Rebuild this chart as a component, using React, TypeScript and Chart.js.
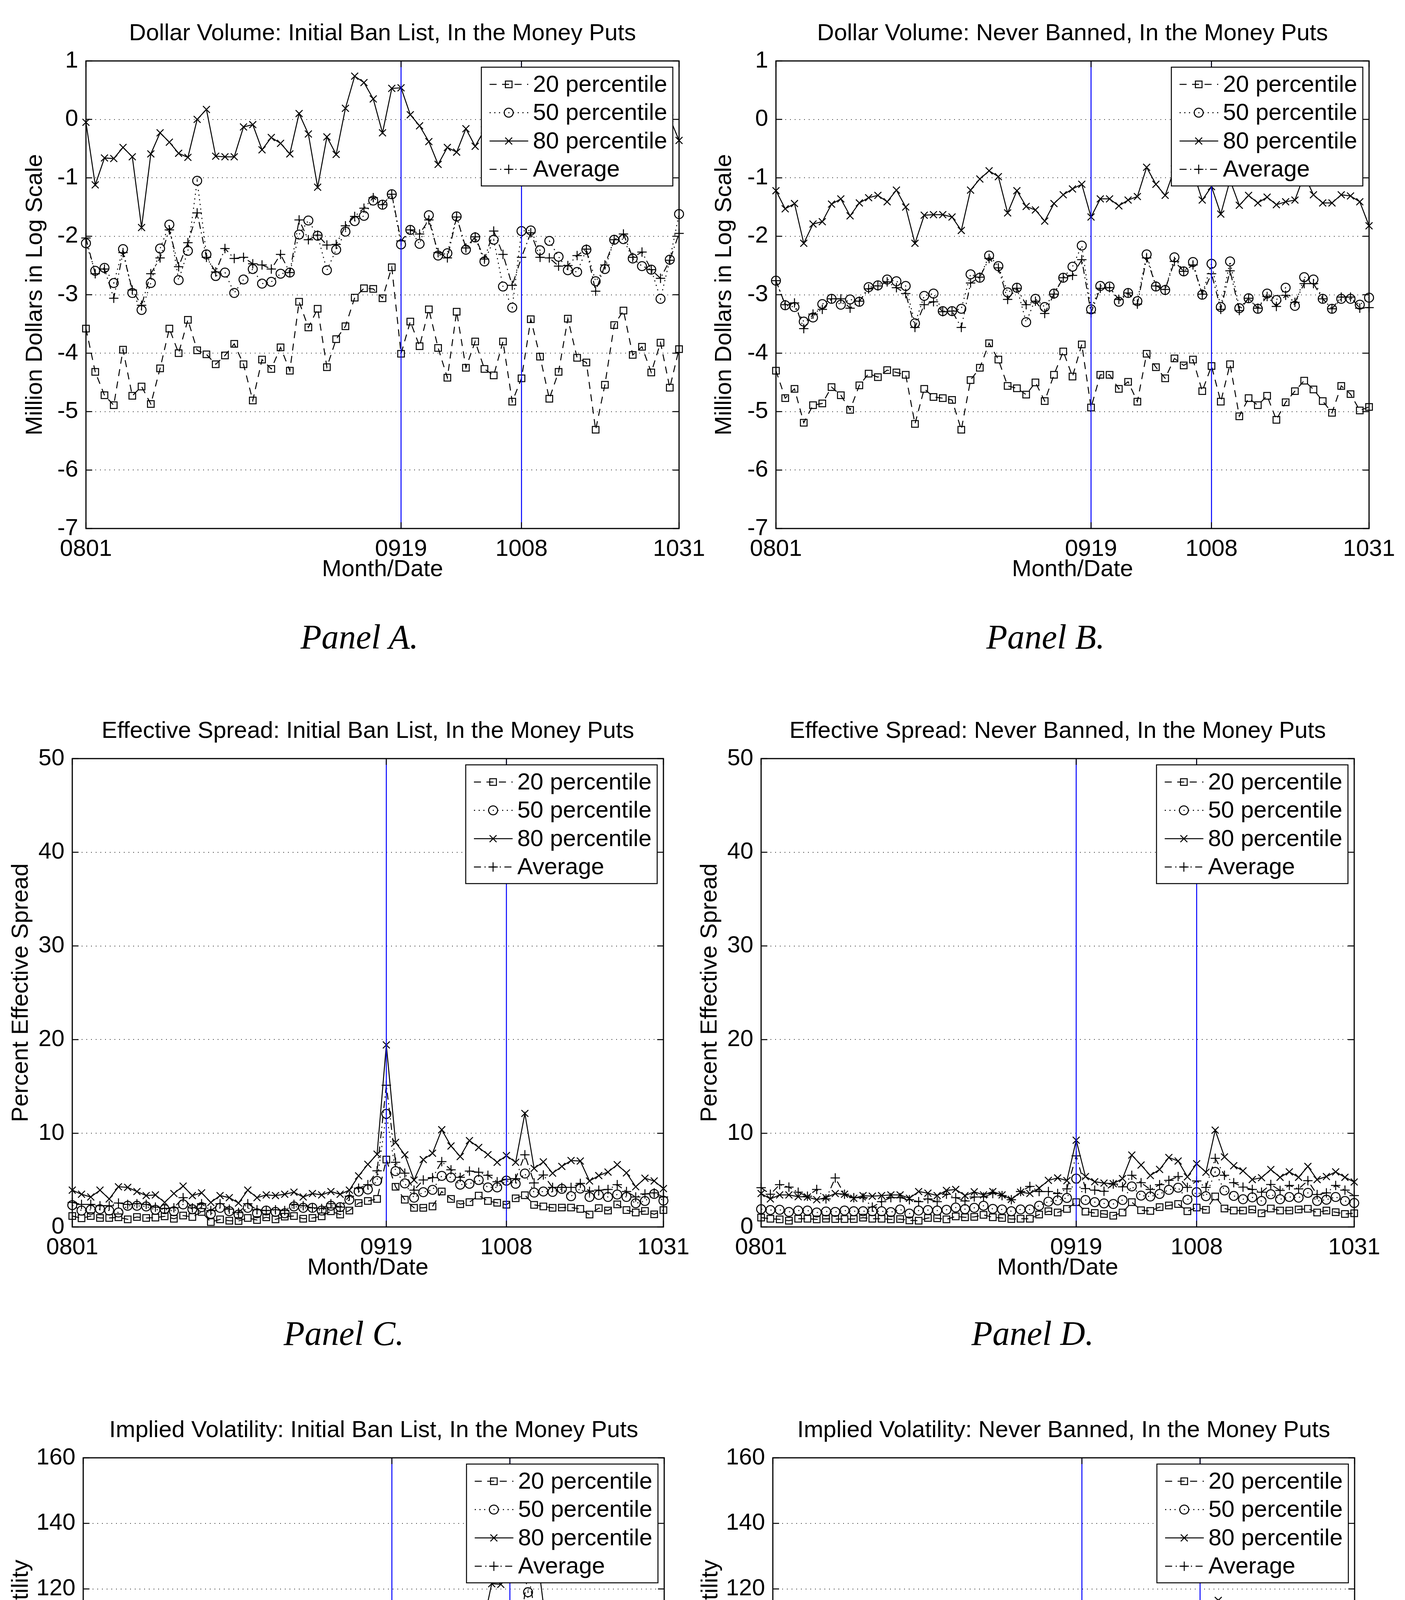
import React, { useEffect, useRef } from 'react';
import { Chart, registerables } from 'chart.js';

Chart.register(...registerables);

// ---------------- data ----------------
const dates = [
  '0801','0804','0805','0806','0807','0808','0811','0812','0813','0814','0815','0818','0819','0820','0821','0822','0825','0826','0827','0828','0829',
  '0902','0903','0904','0905','0908','0909','0910','0911','0912','0915','0916','0917','0918','0919','0922','0923','0924','0925','0926','0929','0930',
  '1001','1002','1003','1006','1007','1008','1009','1010','1013','1014','1015','1016','1017','1020','1021','1022','1023','1024','1027','1028','1029','1030','1031',
];
const tickDates = ['0801', '0919', '1008', '1031'];
const eventDates = ['0919', '1008'];
const seriesNames = ['20 percentile', '50 percentile', '80 percentile', 'Average'];

// Panel A: Dollar volume, initial ban list
const dvBanP20 = [-3.58,-4.32,-4.72,-4.89,-3.94,-4.73,-4.57,-4.87,-4.26,-3.58,-4.00,-3.43,-3.95,-4.02,-4.19,-4.04,-3.84,-4.19,-4.81,-4.11,-4.27,-3.90,-4.30,-3.12,-3.56,-3.24,-4.24,-3.76,-3.54,-3.05,-2.89,-2.90,-3.06,-2.53,-4.01,-3.46,-3.88,-3.25,-3.91,-4.42,-3.29,-4.25,-3.80,-4.27,-4.38,-3.80,-4.83,-4.43,-3.42,-4.06,-4.78,-4.32,-3.41,-4.08,-4.16,-5.31,-4.54,-3.52,-3.27,-4.03,-3.89,-4.33,-3.82,-4.59,-3.93];
const dvBanP50 = [-2.12,-2.59,-2.54,-2.80,-2.22,-2.97,-3.26,-2.80,-2.21,-1.80,-2.75,-2.25,-1.05,-2.31,-2.68,-2.62,-2.97,-2.74,-2.56,-2.81,-2.78,-2.64,-2.62,-1.97,-1.73,-1.99,-2.58,-2.23,-1.92,-1.74,-1.65,-1.39,-1.46,-1.28,-2.14,-1.89,-2.13,-1.64,-2.33,-2.29,-1.66,-2.23,-2.02,-2.43,-2.06,-2.86,-3.22,-1.91,-1.90,-2.24,-2.08,-2.35,-2.58,-2.61,-2.23,-2.77,-2.56,-2.06,-2.05,-2.38,-2.51,-2.57,-3.07,-2.40,-1.62];
const dvBanP80 = [-0.05,-1.12,-0.66,-0.67,-0.48,-0.64,-1.85,-0.59,-0.23,-0.39,-0.58,-0.65,0.00,0.17,-0.63,-0.64,-0.64,-0.13,-0.09,-0.52,-0.31,-0.41,-0.59,0.10,-0.25,-1.16,-0.30,-0.60,0.19,0.74,0.63,0.35,-0.23,0.53,0.54,0.08,-0.11,-0.38,-0.77,-0.48,-0.56,-0.16,-0.46,-0.18,-0.45,-0.30,-0.62,-0.20,-0.48,-0.35,-0.72,-0.40,-0.55,-0.28,-0.60,-0.85,-0.45,-0.22,-0.30,-0.58,-0.42,-0.66,-0.38,0.02,-0.36];
const dvBanAvg = [-2.03,-2.64,-2.56,-3.06,-2.28,-2.92,-3.18,-2.64,-2.37,-1.89,-2.52,-2.11,-1.60,-2.36,-2.61,-2.21,-2.38,-2.36,-2.47,-2.49,-2.56,-2.31,-2.62,-1.72,-2.06,-1.98,-2.15,-2.14,-1.82,-1.66,-1.52,-1.34,-1.46,-1.28,-2.08,-1.89,-1.96,-1.72,-2.28,-2.37,-1.67,-2.20,-2.01,-2.39,-1.91,-2.31,-2.84,-2.36,-1.94,-2.36,-2.37,-2.51,-2.50,-2.33,-2.22,-2.94,-2.49,-2.06,-1.96,-2.36,-2.27,-2.57,-2.72,-2.41,-1.95];

// Panel B: Dollar volume, never banned
const dvNevP20 = [-4.30,-4.77,-4.61,-5.19,-4.89,-4.86,-4.58,-4.72,-4.97,-4.55,-4.35,-4.41,-4.29,-4.33,-4.37,-5.21,-4.61,-4.75,-4.77,-4.80,-5.31,-4.46,-4.25,-3.83,-4.11,-4.56,-4.60,-4.71,-4.50,-4.82,-4.37,-3.97,-4.40,-3.85,-4.93,-4.37,-4.37,-4.61,-4.49,-4.83,-4.01,-4.24,-4.43,-4.09,-4.21,-4.11,-4.65,-4.22,-4.83,-4.19,-5.08,-4.77,-4.89,-4.73,-5.14,-4.84,-4.65,-4.47,-4.62,-4.82,-5.02,-4.56,-4.70,-4.98,-4.92];
const dvNevP50 = [-2.76,-3.18,-3.21,-3.46,-3.39,-3.16,-3.07,-3.17,-3.08,-3.12,-2.87,-2.84,-2.74,-2.77,-2.85,-3.49,-3.02,-2.98,-3.28,-3.28,-3.24,-2.65,-2.71,-2.33,-2.51,-2.96,-2.88,-3.47,-3.07,-3.21,-2.98,-2.71,-2.52,-2.16,-3.25,-2.85,-2.86,-3.12,-2.97,-3.11,-2.31,-2.86,-2.92,-2.36,-2.60,-2.44,-3.00,-2.47,-3.21,-2.43,-3.23,-3.06,-3.24,-2.98,-3.09,-2.88,-3.19,-2.70,-2.74,-3.07,-3.24,-3.07,-3.07,-3.17,-3.05];
const dvNevP80 = [-1.22,-1.53,-1.44,-2.12,-1.79,-1.75,-1.45,-1.36,-1.65,-1.43,-1.34,-1.30,-1.41,-1.21,-1.50,-2.12,-1.64,-1.63,-1.63,-1.67,-1.90,-1.21,-1.02,-0.88,-0.98,-1.60,-1.22,-1.49,-1.55,-1.74,-1.44,-1.29,-1.19,-1.11,-1.67,-1.36,-1.36,-1.48,-1.38,-1.32,-0.82,-1.11,-1.30,-0.85,-0.98,-0.89,-1.38,-1.15,-1.62,-1.04,-1.47,-1.30,-1.43,-1.33,-1.46,-1.41,-1.38,-0.95,-1.29,-1.43,-1.43,-1.29,-1.31,-1.41,-1.82];
const dvNevAvg = [-2.76,-3.17,-3.14,-3.58,-3.33,-3.25,-3.07,-3.07,-3.23,-3.11,-2.90,-2.85,-2.78,-2.88,-2.98,-3.56,-3.17,-3.12,-3.29,-3.28,-3.56,-2.80,-2.70,-2.38,-2.54,-3.08,-2.89,-3.17,-3.11,-3.32,-2.99,-2.71,-2.67,-2.40,-3.31,-2.89,-2.88,-3.08,-2.97,-3.16,-2.37,-2.85,-2.91,-2.43,-2.60,-2.49,-2.99,-2.64,-3.25,-2.59,-3.27,-3.06,-3.23,-3.03,-3.20,-3.01,-3.13,-2.81,-2.81,-3.07,-3.24,-3.04,-3.04,-3.23,-3.22];

// Panel C: Effective spread, initial ban list
const esBanP20 = [1.17,0.93,1.17,0.96,0.96,1.03,0.81,1.06,0.96,1.00,1.14,0.88,1.22,1.06,1.61,0.52,0.81,0.67,0.64,0.96,0.74,1.03,0.81,1.10,1.17,0.88,0.96,1.14,1.68,1.32,1.75,2.55,2.77,2.99,7.19,4.29,2.91,2.04,2.04,2.19,3.78,2.99,2.43,2.65,3.35,2.77,2.58,2.38,3.06,3.39,2.36,2.19,2.04,2.07,2.07,1.93,1.32,2.01,1.75,2.41,1.80,1.54,1.71,1.35,1.80];
const esBanP50 = [2.33,1.75,1.83,1.90,1.75,1.54,2.26,2.26,2.19,1.83,1.90,1.68,2.41,1.90,2.12,1.39,2.04,1.68,1.32,2.04,1.46,1.75,1.61,1.46,2.19,2.04,2.04,1.75,2.26,2.12,2.91,3.78,4.00,4.91,12.07,5.96,4.65,3.13,3.71,3.96,5.45,5.28,4.51,4.61,5.01,4.22,4.22,4.94,4.61,5.70,3.67,3.78,3.74,4.07,3.28,4.10,3.20,3.42,3.20,3.46,3.20,2.52,2.77,3.52,2.80];
const esBanP80 = [3.93,3.49,3.20,3.93,2.99,4.29,4.22,3.78,3.35,3.42,2.62,3.57,4.36,3.35,3.64,2.62,3.35,3.13,2.55,3.93,3.13,3.42,3.35,3.49,3.71,3.20,3.57,3.42,3.78,3.49,3.93,5.45,6.68,7.77,19.43,9.03,7.70,5.01,7.19,7.87,10.38,8.64,7.52,9.22,8.49,7.72,6.90,7.62,6.90,12.12,6.25,6.94,5.74,6.46,7.09,7.04,4.91,5.48,5.86,6.65,5.77,4.29,5.20,4.91,4.10];
const esBanAvg = [2.62,2.41,2.41,2.26,2.26,2.55,2.41,2.48,2.41,2.12,1.97,2.04,3.13,2.04,2.48,1.75,2.48,1.90,1.54,2.48,1.83,1.75,1.83,1.75,2.41,2.26,2.04,1.97,2.48,2.12,3.28,4.14,4.51,5.99,15.13,6.90,5.74,3.93,5.01,5.26,6.97,6.10,5.30,5.96,5.84,5.52,4.83,5.09,5.16,7.70,4.70,5.55,4.22,4.22,4.22,4.65,3.81,3.93,4.00,4.51,3.78,3.20,3.52,3.64,3.20];

// Panel D: Effective spread, never banned
const esNevP20 = [1.00,0.88,0.81,0.67,0.88,0.88,0.81,0.88,0.84,0.84,0.84,0.99,0.88,0.88,0.81,0.84,0.70,0.67,0.96,0.93,0.81,1.13,1.03,1.07,1.29,1.03,0.96,0.84,0.88,0.88,1.32,1.68,1.54,1.93,2.65,1.64,1.49,1.39,1.20,1.54,2.65,1.78,1.71,2.12,2.29,2.45,1.68,2.07,1.83,3.25,1.97,1.75,1.75,1.87,1.46,1.97,1.75,1.75,1.87,1.94,1.54,1.75,1.57,1.39,1.46];
const esNevP50 = [1.90,1.80,1.83,1.61,1.75,1.75,1.54,1.65,1.61,1.75,1.68,1.68,1.68,1.68,1.58,1.87,1.43,1.75,1.80,1.75,1.83,2.07,1.90,2.04,2.26,1.93,1.87,1.68,1.87,1.87,2.26,2.70,2.84,3.10,5.16,2.88,2.65,2.51,2.45,2.88,4.33,3.35,3.25,3.52,3.96,4.19,2.91,3.71,3.28,5.88,3.90,3.32,2.96,3.16,2.77,3.49,2.96,3.20,3.13,3.64,2.77,2.91,3.20,2.77,2.55];
const esNevP80 = [3.57,2.99,3.42,3.42,3.23,3.20,2.91,3.13,3.57,3.49,3.06,3.35,3.28,3.35,3.42,3.42,3.06,3.78,3.61,3.35,3.90,4.00,3.35,3.75,3.42,3.78,3.42,2.94,3.71,3.57,4.14,4.97,5.23,4.94,9.26,5.38,4.83,4.68,4.62,5.16,7.67,6.61,5.49,6.14,7.41,7.04,5.35,6.75,5.84,10.33,7.48,6.54,5.99,5.06,5.26,6.13,5.30,5.88,5.30,6.46,5.06,5.38,5.88,5.30,4.80];
const esNevAvg = [4.19,3.49,4.51,4.25,3.71,3.28,4.00,2.99,5.23,3.49,3.13,3.13,2.12,2.70,3.13,3.13,2.91,2.70,2.99,2.70,3.49,3.13,2.77,3.20,3.20,3.57,3.35,2.91,3.78,4.33,3.78,3.78,3.57,4.07,7.59,4.10,3.93,3.81,4.58,4.29,5.52,4.72,4.00,4.51,4.97,5.38,4.22,4.91,4.22,7.33,5.52,4.72,4.25,4.00,3.71,4.54,3.90,4.43,4.07,4.94,3.46,3.64,4.43,3.93,3.35];

// Panel E: Implied volatility, initial ban list
const ivBanP20 = [41.2,41.0,39.1,38.5,38.5,40.0,38.9,39.6,43.0,41.8,37.3,37.3,39.6,40.0,44.1,43.4,41.4,38.9,41.9,39.3,40.6,38.3,38.3,40.6,40.9,37.8,42.5,44.7,44.1,43.6,45.3,48.8,51.0,50.8,43.4,51.8,51.1,51.3,50.3,47.9,51.7,55.2,52.4,54.8,57.7,71.3,63.5,76.8,81.1,96.5,84.4,68.8,69.7,78.6,69.5,61.6,58.9,67.7,70.6,73.0,72.4,69.0,66.5,68.3,65.9];
const ivBanP50 = [52.2,54.9,48.4,44.8,46.1,49.2,44.6,48.8,51.0,50.0,48.1,45.7,49.2,50.5,51.0,49.9,50.1,47.9,50.0,47.4,52.4,47.0,47.7,46.8,51.3,49.9,51.0,54.2,56.2,56.2,58.9,61.7,66.1,64.1,64.9,64.0,65.3,61.1,61.7,62.5,70.0,72.8,66.0,68.7,70.6,84.0,82.9,90.7,92.1,119.0,96.8,79.7,80.7,88.0,80.0,75.5,71.6,75.2,80.2,90.0,87.4,84.7,82.6,77.0,76.1];
const ivBanP80 = [72.5,75.7,61.1,60.0,64.1,66.4,63.8,66.9,68.8,66.1,66.1,62.2,68.1,66.7,67.2,66.3,67.7,67.9,65.3,65.3,69.4,62.9,63.2,66.7,69.0,63.2,64.0,70.3,78.2,80.0,87.1,90.2,93.2,92.9,88.5,85.8,88.2,81.2,79.3,92.3,88.3,88.4,91.4,95.2,108.7,121.6,121.4,124.5,128.0,127.0,130.5,108.6,114.7,114.5,105.6,106.4,93.4,97.2,103.3,114.0,104.5,103.5,96.3,97.0,96.3];
const ivBanAvg = [56.0,59.1,52.8,50.3,52.3,54.0,50.4,54.2,55.5,53.9,52.3,50.8,54.7,53.9,56.6,55.2,55.8,54.6,54.1,52.8,55.7,51.8,51.7,52.6,54.7,51.7,55.8,59.6,64.9,67.0,69.5,72.5,77.8,77.0,69.7,73.1,74.3,68.9,70.5,75.7,77.5,79.7,79.7,80.6,82.5,93.9,92.9,96.5,106.4,125.0,109.2,90.9,92.3,101.2,91.8,84.9,80.2,81.7,86.0,92.0,90.5,89.5,84.5,84.0,82.2];

// Panel F: Implied volatility, never banned
const ivNevP20 = [31.8,32.3,31.6,31.5,31.1,30.4,31.6,32.1,31.3,30.0,29.5,29.8,30.3,30.5,29.7,30.6,30.9,30.8,30.5,29.7,29.8,30.3,31.5,30.6,32.2,31.8,33.1,32.2,32.2,32.2,33.4,34.5,35.6,35.1,33.4,35.2,35.2,35.5,35.5,35.6,38.6,37.6,39.3,39.6,40.1,47.5,46.9,51.1,52.1,60.7,55.9,51.2,53.9,58.6,56.0,52.4,49.7,53.5,52.8,54.9,56.9,55.9,52.8,53.1,53.1];
const ivNevP50 = [43.2,45.1,44.5,43.6,43.4,42.1,43.2,44.0,43.2,41.8,41.4,41.8,41.9,41.4,42.5,41.9,41.6,42.5,41.2,40.3,40.0,41.4,42.1,42.9,43.6,43.6,45.3,44.8,45.8,44.1,46.6,48.7,50.6,49.2,47.7,49.0,49.5,50.3,48.4,49.0,53.9,53.5,53.9,59.1,58.3,68.5,65.9,71.6,73.0,83.3,76.2,68.4,73.9,81.3,77.3,71.9,66.4,71.2,68.9,72.3,71.9,74.6,70.1,71.3,69.5];
const ivNevP80 = [56.5,60.2,60.0,60.1,60.9,56.5,57.3,58.1,58.1,56.5,57.3,55.2,56.9,55.7,56.5,56.9,54.2,56.9,54.0,54.0,54.0,55.7,56.2,56.2,58.7,59.4,62.7,62.0,64.3,61.4,66.1,69.6,69.4,68.9,66.4,63.0,65.8,67.9,66.5,66.9,77.0,77.4,75.5,86.4,82.5,95.7,93.6,102.8,102.2,116.5,106.9,100.6,107.1,114.7,110.0,98.6,93.6,103.3,99.4,102.8,107.5,103.5,100.6,96.1,92.6];
const ivNevAvg = [45.9,47.7,47.0,46.9,46.9,45.6,46.3,46.9,46.3,45.3,45.0,44.3,45.1,44.5,45.0,44.8,44.7,45.2,44.6,43.5,42.9,44.3,44.7,45.8,47.0,47.1,49.2,49.0,49.0,48.1,51.0,53.2,54.7,52.8,50.5,51.2,52.6,53.7,51.7,52.6,58.6,58.4,58.1,63.2,63.6,74.2,71.9,78.2,77.8,89.8,81.8,74.9,80.8,87.4,83.2,76.2,71.2,77.0,75.7,78.8,80.0,80.6,76.5,75.7,74.4];

// ---------------- panel definitions ----------------
type PanelSpec = {
  title: string; yLabel: string; caption: string;
  series: number[][]; yMin: number; yMax: number; yStep: number;
};

const panels: PanelSpec[] = [
  { title: 'Dollar Volume: Initial Ban List, In the Money Puts', yLabel: 'Million Dollars in Log Scale', caption: 'Panel A.',
    series: [dvBanP20, dvBanP50, dvBanP80, dvBanAvg], yMin: -7, yMax: 1, yStep: 1 },
  { title: 'Dollar Volume: Never Banned, In the Money Puts', yLabel: 'Million Dollars in Log Scale', caption: 'Panel B.',
    series: [dvNevP20, dvNevP50, dvNevP80, dvNevAvg], yMin: -7, yMax: 1, yStep: 1 },
  { title: 'Effective Spread: Initial Ban List, In the Money Puts', yLabel: 'Percent Effective Spread', caption: 'Panel C.',
    series: [esBanP20, esBanP50, esBanP80, esBanAvg], yMin: 0, yMax: 50, yStep: 10 },
  { title: 'Effective Spread: Never Banned, In the Money Puts', yLabel: 'Percent Effective Spread', caption: 'Panel D.',
    series: [esNevP20, esNevP50, esNevP80, esNevAvg], yMin: 0, yMax: 50, yStep: 10 },
  { title: 'Implied Volatility: Initial Ban List, In the Money Puts', yLabel: 'Percent Implied Volatility', caption: 'Panel E.',
    series: [ivBanP20, ivBanP50, ivBanP80, ivBanAvg], yMin: 20, yMax: 160, yStep: 20 },
  { title: 'Implied Volatility: Never Banned, In the Money Puts', yLabel: 'Percent Implied Volatility', caption: 'Panel F.',
    series: [ivNevP20, ivNevP50, ivNevP80, ivNevAvg], yMin: 20, yMax: 160, yStep: 20 },
];

// plot rectangles (page px), canvas origin, y-axis box width, caption centre
const layouts = [
  { L: 220, T: 156, R: 1738, B: 1353, cx: 0, cy: 0, wy: 166, capX: 920, capY: 1632 },
  { L: 1986, T: 156, R: 3504, B: 1353, cx: 1766, cy: 0, wy: 168, capX: 2676, capY: 1632 },
  { L: 185, T: 1942, R: 1698, B: 3141, cx: 0, cy: 1742, wy: 167, capX: 880, capY: 3415 },
  { L: 1948, T: 1942, R: 3466, B: 3141, cx: 1766, cy: 1742, wy: 167, capX: 2643, capY: 3415 },
  { L: 213, T: 3732, R: 1700, B: 4907, cx: 0, cy: 3532, wy: 195, capX: 880, capY: 5171 },
  { L: 1978, T: 3732, R: 3467, B: 4907, cx: 1766, cy: 3532, wy: 195, capX: 2640, capY: 5171 },
];

const FONT = '"Liberation Sans", Arial, Helvetica, sans-serif';
const FS = 60;
const CW = 1830;
const CH = 1560;
const HX = 141;

const STYLES = [
  { dash: [18, 14], point: 'rect', radius: 12 },
  { dash: [3, 9], point: 'circle', radius: 11.5 },
  { dash: [] as number[], point: 'crossRot', radius: 12.5 },
  { dash: [18, 9, 3, 9], point: 'cross', radius: 12 },
];

function drawMarker(ctx: CanvasRenderingContext2D, style: string, x: number, y: number, r: number) {
  ctx.beginPath();
  if (style === 'circle') {
    ctx.arc(x, y, r, 0, Math.PI * 2);
  } else if (style === 'rect') {
    const s = r * Math.SQRT1_2;
    ctx.rect(x - s, y - s, 2 * s, 2 * s);
  } else if (style === 'cross') {
    ctx.moveTo(x - r, y); ctx.lineTo(x + r, y);
    ctx.moveTo(x, y - r); ctx.lineTo(x, y + r);
  } else {
    const s = r * Math.SQRT1_2;
    ctx.moveTo(x - s, y - s); ctx.lineTo(x + s, y + s);
    ctx.moveTo(x - s, y + s); ctx.lineTo(x + s, y - s);
  }
  ctx.stroke();
}

const decorPlugin = {
  id: 'decor',
  beforeDatasetsDraw(chart: any) {
    const { ctx, chartArea: a, scales } = chart;
    const y = scales.y;
    ctx.save();
    ctx.strokeStyle = 'rgba(0,0,0,0.8)';
    ctx.lineWidth = 2;
    ctx.setLineDash([2, 10]);
    for (const t of y.ticks) {
      const py = Math.round(y.getPixelForValue(t.value));
      if (py <= a.top + 2 || py >= a.bottom - 2) continue;
      ctx.beginPath();
      ctx.moveTo(a.left, py);
      ctx.lineTo(a.right, py);
      ctx.stroke();
    }
    ctx.restore();
  },
  afterDatasetsDraw(chart: any, _args: any, opts: any) {
    const { ctx, chartArea: a, scales } = chart;
    const x = scales.x;
    const y = scales.y;
    const seg = (x1: number, y1: number, x2: number, y2: number) => {
      ctx.beginPath(); ctx.moveTo(x1, y1); ctx.lineTo(x2, y2); ctx.stroke();
    };
    ctx.save();
    // event lines
    ctx.strokeStyle = '#0000ff';
    ctx.lineWidth = 2.5;
    for (const d of opts.events as string[]) {
      const px = x.getPixelForValue(dates.indexOf(d));
      seg(px, a.top, px, a.bottom);
    }
    // axes box
    ctx.strokeStyle = '#000';
    ctx.lineWidth = 3;
    ctx.strokeRect(a.left, a.top, a.right - a.left, a.bottom - a.top);
    // inward ticks
    ctx.lineWidth = 2.5;
    for (const t of y.ticks) {
      const py = y.getPixelForValue(t.value);
      seg(a.left, py, a.left + 16, py);
      seg(a.right - 16, py, a.right, py);
    }
    for (const d of tickDates) {
      const px = x.getPixelForValue(dates.indexOf(d));
      seg(px, a.bottom, px, a.bottom - 16);
      seg(px, a.top, px, a.top + 16);
    }
    // legend box
    const lw = 490, lh = 304, inset = 16;
    const lx = a.right - inset - lw;
    const ly = a.top + inset;
    ctx.fillStyle = '#fff';
    ctx.fillRect(lx, ly, lw, lh);
    ctx.lineWidth = 2.5;
    ctx.strokeRect(lx, ly, lw, lh);
    ctx.font = `${FS}px ${FONT}`;
    ctx.textAlign = 'left';
    ctx.textBaseline = 'middle';
    ctx.fillStyle = '#000';
    chart.data.datasets.forEach((ds: any, k: number) => {
      const cy = ly + 44 + k * 72.5;
      ctx.lineWidth = 2.5;
      ctx.setLineDash(ds.borderDash || []);
      seg(lx + 21, cy, lx + 120, cy);
      ctx.setLineDash([]);
      drawMarker(ctx, ds.pointStyle, lx + 70, cy, ds.pointRadius);
      ctx.fillText(ds.label, lx + 132, cy + 2);
    });
    // title
    ctx.textAlign = 'center';
    ctx.fillText(opts.title, (a.left + a.right) / 2, a.top - 70);
    ctx.restore();
  },
};

function ChartPanel({ spec, lay }: { spec: PanelSpec; lay: typeof layouts[number] }) {
  const ref = useRef<HTMLCanvasElement>(null);
  useEffect(() => {
    const canvas = ref.current;
    if (!canvas) return;
    const chart = new Chart(canvas, {
      type: 'line',
      data: {
        labels: dates,
        datasets: seriesNames.map((name, k) => ({
          label: name,
          data: spec.series[k],
          borderColor: '#000',
          borderWidth: 2.5,
          borderDash: STYLES[k].dash,
          pointStyle: STYLES[k].point as any,
          pointRadius: STYLES[k].radius,
          pointHoverRadius: STYLES[k].radius,
          pointBorderWidth: 2.5,
          pointBorderColor: '#000',
          pointBackgroundColor: 'rgba(0,0,0,0)',
          fill: false,
          tension: 0,
          clip: false as any,
        })),
      },
      options: {
        animation: false,
        responsive: false,
        devicePixelRatio: 1,
        events: [],
        layout: {
          padding: {
            left: lay.L - lay.cx - lay.wy,
            top: lay.T - lay.cy,
            right: lay.cx + CW - lay.R,
            bottom: lay.cy + CH - lay.B - HX,
          },
        },
        plugins: {
          legend: { display: false },
          title: { display: false },
          tooltip: { enabled: false },
          decor: { title: spec.title, events: eventDates },
        } as any,
        scales: {
          x: {
            type: 'category',
            offset: false,
            grid: { display: false },
            border: { display: false },
            ticks: {
              autoSkip: false,
              maxRotation: 0,
              minRotation: 0,
              padding: 9,
              color: '#000',
              font: { family: FONT, size: FS },
              callback: (_v: any, i: number) => (tickDates.includes(dates[i]) ? dates[i] : null),
            },
            title: { display: true, text: 'Month/Date', color: '#000', font: { family: FONT, size: FS }, padding: 0 },
            afterFit: (s: any) => { s.height = HX; },
          },
          y: {
            type: 'linear',
            min: spec.yMin,
            max: spec.yMax,
            grid: { display: false },
            border: { display: false },
            ticks: { stepSize: spec.yStep, padding: 12, color: '#000', font: { family: FONT, size: FS } },
            title: { display: true, text: spec.yLabel, color: '#000', font: { family: FONT, size: FS }, padding: 0 },
            afterFit: (s: any) => { s.width = lay.wy; },
          },
        } as any,
      },
      plugins: [decorPlugin],
    });
    return () => chart.destroy();
  }, [spec, lay]);
  return (
    <canvas
      ref={ref}
      width={CW}
      height={CH}
      style={{ position: 'absolute', left: lay.cx, top: lay.cy, width: CW, height: CH }}
    />
  );
}

export default function App() {
  return (
    <div style={{ position: 'absolute', left: 0, top: 0, width: 3596, height: 5264, background: '#fff', overflow: 'hidden' }}>
      {panels.map((p, i) => (
        <ChartPanel key={i} spec={p} lay={layouts[i]} />
      ))}
      {panels.map((p, i) => (
        <div
          key={'c' + i}
          style={{
            position: 'absolute',
            left: layouts[i].capX,
            top: layouts[i].capY - 45,
            transform: 'translateX(-50%)',
            font: 'italic 88px "Liberation Serif", "DejaVu Serif", serif',
            lineHeight: 1,
            whiteSpace: 'nowrap',
            color: '#000',
          }}
        >
          {p.caption}
        </div>
      ))}
    </div>
  );
}
